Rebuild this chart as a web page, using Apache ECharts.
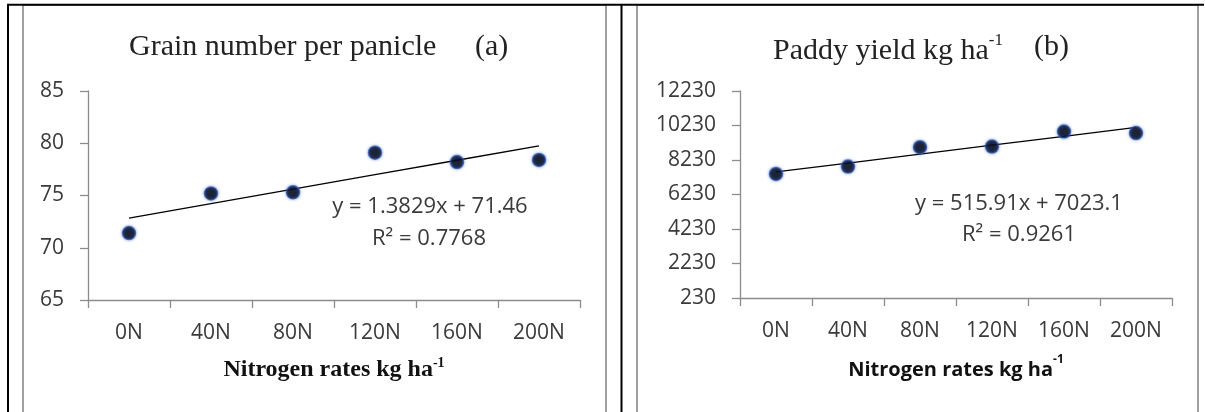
<!DOCTYPE html>
<html>
<head>
<meta charset="utf-8">
<script src="https://cdn.jsdelivr.net/npm/echarts@6/dist/echarts.min.js"></script>
<style>
html,body{margin:0;padding:0;background:#fff;}
#c{width:1205px;height:412px;}
</style>
</head>
<body>
<div id="c"></div>
<script>
// ---- data ----
const categories = ['0N', '40N', '80N', '120N', '160N', '200N'];
const grainNumber = [71.4, 75.2, 75.3, 79.1, 78.2, 78.4];
const paddyYield = [7420, 7850, 8970, 9010, 9880, 9790];
const grainSlope = 1.3829, grainIntercept = 71.46, grainR2 = 0.7768;
const yieldSlope = 515.91, yieldIntercept = 7023.1, yieldR2 = 0.9261;
const grainTicks = { min: 65, max: 85, interval: 5 };
const yieldTicks = { min: 230, max: 12230, interval: 2000 };

// trendline values from the displayed regression equations (x = 1..6)
const grainTrend = categories.map((c, i) => +(grainIntercept + grainSlope * (i + 1)).toFixed(3));
const yieldTrend = categories.map((c, i) => +(yieldIntercept + yieldSlope * (i + 1)).toFixed(3));

const LABEL = '#3a3a3a';
const AXIS = '#8c8c8c';
const SANS = '"Open Sans", "Liberation Sans", sans-serif';
const SERIF = '"Liberation Serif", "Times New Roman", serif';

function xAxisCfg(gridIndex, nameFamily, nameSize) {
  return {
    type: 'category', gridIndex, data: categories, boundaryGap: true,
    axisLine: { lineStyle: { color: AXIS, width: 1.3 } },
    axisTick: { show: true, length: 8, lineStyle: { color: AXIS, width: 1.3 } },
    axisLabel: { color: LABEL, fontFamily: SANS, fontSize: 21, margin: 23 },
    name: '{m|Nitrogen rates kg ha}{s|-1}',
    nameLocation: 'middle', nameGap: 56,
    nameTextStyle: {
      rich: {
        m: { fontFamily: nameFamily, fontWeight: 'bold', fontSize: nameSize, color: '#111', lineHeight: 26, verticalAlign: 'bottom' },
        s: { fontFamily: nameFamily, fontWeight: 'bold', fontSize: Math.round(nameSize * 0.6), color: '#111', lineHeight: 26, verticalAlign: 'top' }
      }
    }
  };
}
function yAxisCfg(gridIndex, t) {
  return {
    type: 'value', gridIndex, min: t.min, max: t.max, interval: t.interval,
    splitLine: { show: false },
    axisLine: { show: true, lineStyle: { color: AXIS, width: 1.3 } },
    axisTick: { show: true, length: 8, lineStyle: { color: AXIS, width: 1.3 } },
    axisLabel: { color: LABEL, fontFamily: SANS, fontSize: 21, margin: 24, formatter: v => String(v) }
  };
}
const dotStyle = {
  color: '#02040c', borderColor: 'rgba(45,85,170,0.85)', borderWidth: 1.5,
  shadowBlur: 3, shadowColor: 'rgba(40,90,200,0.7)'
};
const titleStyle = { fontFamily: SERIF, fontWeight: 'normal', fontSize: 30, color: '#222' };

const chart = echarts.init(document.getElementById('c'), null, { renderer: 'canvas' });
chart.setOption({
  animation: false,
  backgroundColor: '#fff',
  title: [
    { text: 'Grain number per panicle', left: 124, top: 27, textStyle: titleStyle },
    { text: '(a)', left: 470, top: 27, textStyle: titleStyle },
    { text: '{m|Paddy yield kg ha}{s|-1}', left: 768, top: 27,
      textStyle: { rich: {
        m: { fontFamily: SERIF, fontWeight: 'normal', fontSize: 30, color: '#222', lineHeight: 34, verticalAlign: 'bottom' },
        s: { fontFamily: SERIF, fontWeight: 'normal', fontSize: 17, color: '#222', lineHeight: 34, verticalAlign: 'top' } } } },
    { text: '(b)', left: 1029, top: 27, textStyle: titleStyle }
  ],
  grid: [
    { left: 88, top: 91, width: 492, height: 209, containLabel: false },
    { left: 740, top: 91, width: 432, height: 207, containLabel: false }
  ],
  xAxis: [xAxisCfg(0, SERIF, 24), xAxisCfg(1, SANS, 20)],
  yAxis: [yAxisCfg(0, grainTicks), yAxisCfg(1, yieldTicks)],
  series: [
    { type: 'line', xAxisIndex: 0, yAxisIndex: 0, data: grainTrend, symbol: 'none',
      lineStyle: { color: '#000', width: 1.3 }, z: 2 },
    { type: 'scatter', xAxisIndex: 0, yAxisIndex: 0, data: grainNumber, symbolSize: 13,
      itemStyle: dotStyle, z: 3 },
    { type: 'line', xAxisIndex: 1, yAxisIndex: 1, data: yieldTrend, symbol: 'none',
      lineStyle: { color: '#000', width: 1.3 }, z: 2 },
    { type: 'scatter', xAxisIndex: 1, yAxisIndex: 1, data: paddyYield, symbolSize: 13,
      itemStyle: dotStyle, z: 3 }
  ],
  graphic: [
    // panel borders
    { type: 'rect', shape: { x: 23, y: 5, width: 583, height: 420 }, style: { fill: 'none', stroke: '#a0a0a0', lineWidth: 2 }, z: 1, silent: true },
    { type: 'rect', shape: { x: 637, y: 5, width: 561, height: 420 }, style: { fill: 'none', stroke: '#a0a0a0', lineWidth: 2 }, z: 1, silent: true },
    // black frame lines
    { type: 'line', shape: { x1: 7, y1: 4.8, x2: 1204, y2: 4.8 }, style: { stroke: '#000', lineWidth: 2 }, z: 10, silent: true },
    { type: 'line', shape: { x1: 8, y1: 4, x2: 8, y2: 412 }, style: { stroke: '#000', lineWidth: 2 }, z: 10, silent: true },
    { type: 'line', shape: { x1: 621.5, y1: 4, x2: 621.5, y2: 412 }, style: { stroke: '#000', lineWidth: 2 }, z: 10, silent: true },
    // regression equations
    { type: 'text', x: 430, y: 207, style: { text: 'y = ' + grainSlope + 'x + ' + grainIntercept, font: '22px ' + SANS, fill: LABEL, align: 'center', verticalAlign: 'middle' }, z: 5 },
    { type: 'text', x: 429, y: 239, style: { text: 'R² = ' + grainR2, font: '22px ' + SANS, fill: LABEL, align: 'center', verticalAlign: 'middle' }, z: 5 },
    { type: 'text', x: 1019, y: 204, style: { text: 'y = ' + yieldSlope + 'x + ' + yieldIntercept, font: '22px ' + SANS, fill: LABEL, align: 'center', verticalAlign: 'middle' }, z: 5 },
    { type: 'text', x: 1019, y: 235, style: { text: 'R² = ' + yieldR2, font: '22px ' + SANS, fill: LABEL, align: 'center', verticalAlign: 'middle' }, z: 5 }
  ]
});
</script>
</body>
</html>
